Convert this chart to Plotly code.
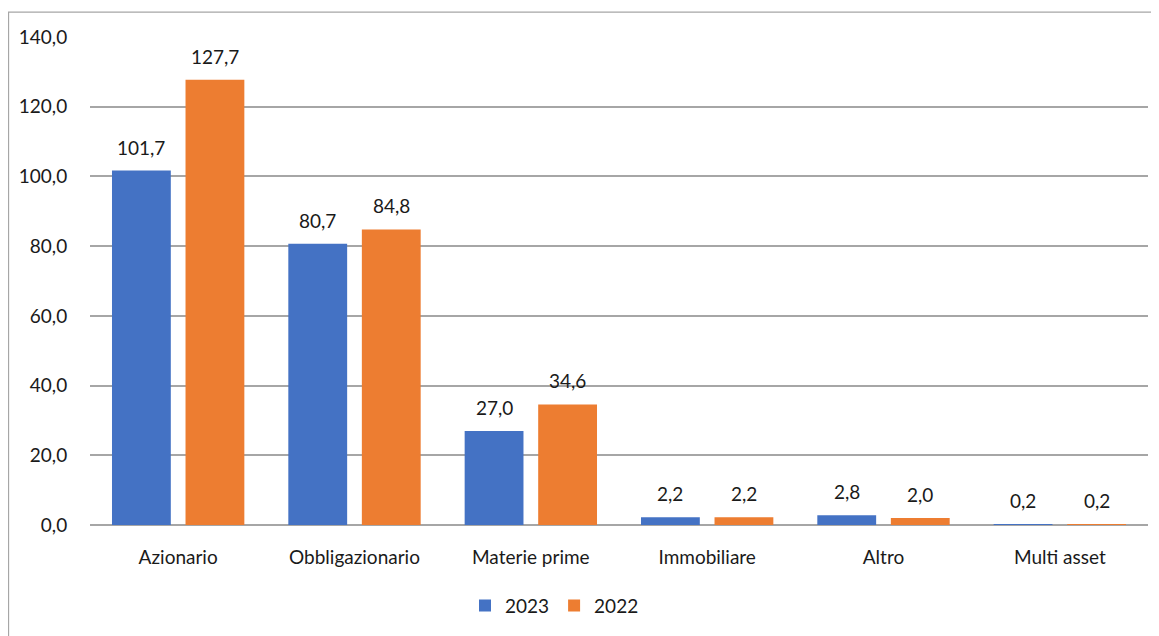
import plotly.graph_objects as go

categories = ["Azionario", "Obbligazionario", "Materie prime", "Immobiliare", "Altro", "Multi asset"]
values_2023 = [101.7, 80.7, 27.0, 2.2, 2.8, 0.2]
values_2022 = [127.7, 84.8, 34.6, 2.2, 2.0, 0.2]
series_names = ["2023", "2022"]
y_ticks = [0, 20, 40, 60, 80, 100, 120, 140]

FONT = "Lato"
FS = 19
TXT = "#1a1a1a"
colors = ["#4472C4", "#ED7D31"]

fig = go.Figure()
for name, vals, col in zip(series_names, [values_2023, values_2022], colors):
    fig.add_trace(go.Bar(name=name, x=categories, y=vals, marker=dict(color=col, line=dict(width=0))))

# data labels
for i, vals in enumerate([values_2023, values_2022]):
    shift = -36.75 if i == 0 else 36.75
    for c, v in zip(categories, vals):
        fig.add_annotation(x=c, y=v, xref="x", yref="y", text=f"{v:.1f}".replace(".", ","),
                           showarrow=False, yanchor="bottom", xshift=shift, yshift=10,
                           font=dict(family=FONT, size=FS, color=TXT))

# page has an 8px body margin; compensate
W, H = 1151, 628
L, R, T, B = 82, 11, 29, 109
pw, ph = W - L - R, H - T - B

# outer frame
fig.add_shape(type="rect", xref="paper", yref="paper",
              x0=(0.5 - L) / pw, x1=1.2, y0=-0.6, y1=1 + (T - 4) / ph,
              line=dict(color="#A6A6A6", width=1.3), fillcolor="rgba(0,0,0,0)", layer="below")

fig.update_layout(
    width=W, height=H,
    margin=dict(l=L, r=R, t=T, b=B, pad=0),
    paper_bgcolor="white", plot_bgcolor="white",
    separators=",.",
    barmode="group", bargap=0.166, bargroupgap=0.2,
    font=dict(family=FONT, size=FS, color=TXT),
    showlegend=True,
    legend=dict(orientation="h", x=(457 - L) / pw, xanchor="left", y=-0.1653, yanchor="middle",
                font=dict(family=FONT, size=FS, color=TXT), itemwidth=30, traceorder="normal",
                bgcolor="rgba(0,0,0,0)", tracegroupgap=0),
    xaxis=dict(showgrid=False, showline=False, ticks="outside", ticklen=15,
               tickcolor="rgba(0,0,0,0)", tickfont=dict(family=FONT, size=FS, color=TXT)),
    yaxis=dict(range=[0, 140], tickvals=y_ticks, tickformat=".1f", showgrid=True,
               gridcolor="#A6A6A6", gridwidth=1.5, zeroline=True, zerolinecolor="#A6A6A6",
               zerolinewidth=1.5, showline=False, ticks="outside", ticklen=18,
               tickcolor="rgba(0,0,0,0)", tickfont=dict(family=FONT, size=FS, color=TXT)),
)

fig.write_html("out.html")
